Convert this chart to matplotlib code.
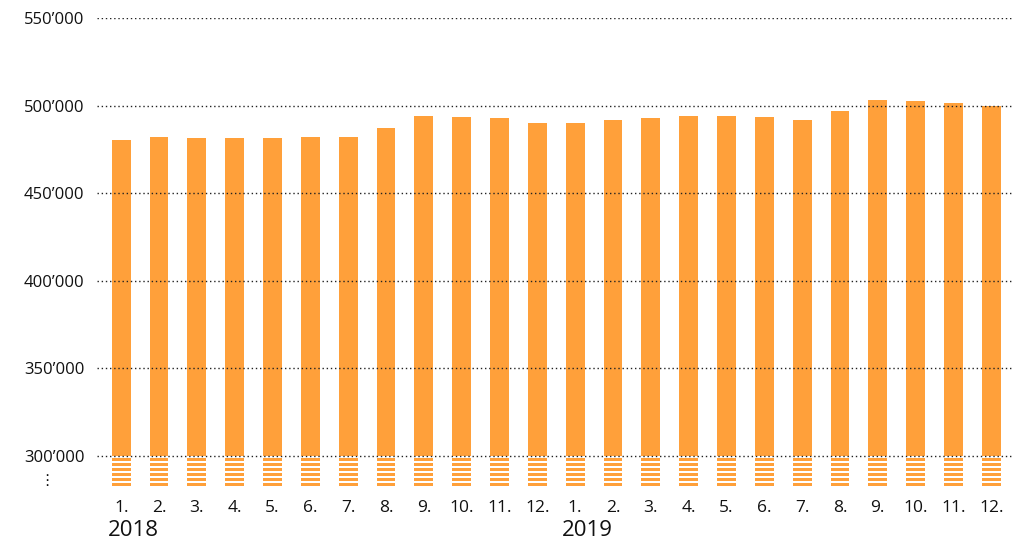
import matplotlib
matplotlib.use('Agg')
import matplotlib.pyplot as plt
from matplotlib.transforms import blended_transform_factory

plt.rcParams['font.family'] = ['Open Sans', 'DejaVu Sans']

# monthly values, 2018-2019
months = ['1.', '2.', '3.', '4.', '5.', '6.', '7.', '8.', '9.', '10.', '11.', '12.'] * 2
values = [480400, 482100, 481600, 481600, 481600, 482100, 482100, 487300, 494100, 493600, 493000, 490100,
          490100, 491800, 493000, 494100, 494100, 493600, 491800, 497000, 503300, 502700, 501500, 500000]
years = ['2018', '2019']
yticks = [300000, 350000, 400000, 450000, 500000, 550000]
ytick_labels = ['300’000', '350’000', '400’000', '450’000', '500’000', '550’000']

orange = '#FFA03A'
ybot = 281700
x = list(range(len(values)))

fig = plt.figure(figsize=(10.14, 5.46), dpi=100)
ax = fig.add_axes([97/1014, 58/546, 917/1014, 470/546])

# solid part from the break line up
ax.bar(x, [v - 300000 for v in values], bottom=300000, width=0.5, color=orange, zorder=2)
# striped part below the break
for k in range(6):
    top = 299100 - k * 2870
    ax.bar(x, 2000, bottom=top - 2000, width=0.5, color=orange, zorder=2)

for t in yticks:
    ax.axhline(t, color='#222222', linestyle=(0, (1, 2)), linewidth=1, zorder=3)

ax.set_ylim(ybot, 550000)
ax.set_xlim(-0.64, 23.6)
ax.set_yticks(yticks)
ax.set_yticklabels(ytick_labels, fontsize=12, color='#111111')
ax.set_xticks(x)
ax.set_xticklabels(months, fontsize=12.5, color='#111111')
ax.tick_params(length=0)
ax.tick_params(axis='y', pad=9)
ax.tick_params(axis='x', pad=9)
for s in ax.spines.values():
    s.set_visible(False)

# break marker under the lowest label
fig.text(47/1014, 1 - 481/546, '⋮', fontsize=11, ha='center', va='center',
         color='#111111', family=['DejaVu Sans'])

tr = blended_transform_factory(ax.transData, fig.transFigure)
for i, yr in enumerate(years):
    ax.text(i * 12 - 0.36, 1 - 530/546, yr, transform=tr, fontsize=16, ha='left', va='center',
            color='#111111')

fig.savefig('out.png', dpi=100)
